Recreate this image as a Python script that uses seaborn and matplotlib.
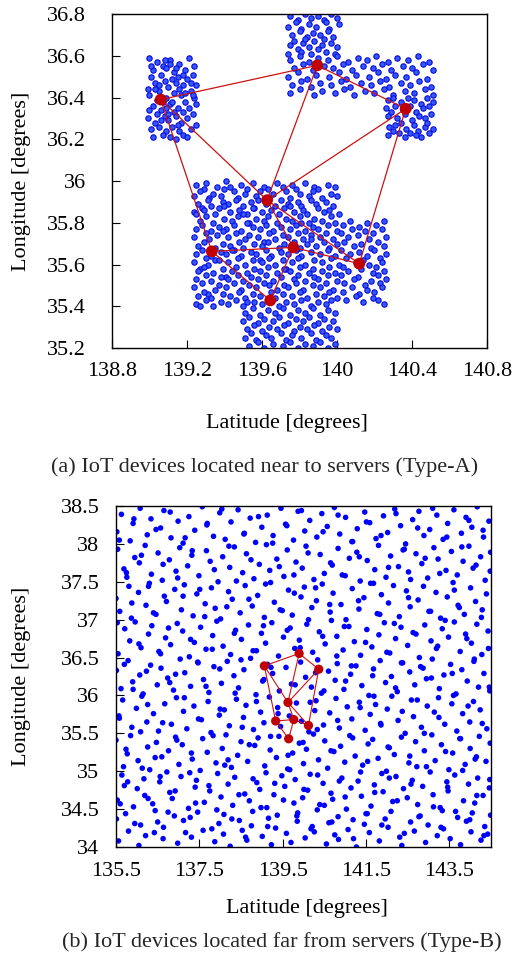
import matplotlib
matplotlib.use("Agg")
import matplotlib.pyplot as plt
import numpy as np
import pandas as pd
import seaborn as sns

# ---------------------------------------------------------------
# Edge servers (shared by both scenarios) and the links between them
# ---------------------------------------------------------------
server_lon = [139.06, 139.895, 140.366, 139.627, 139.332, 139.767, 140.119, 139.644]
server_lat = [36.39, 36.554, 36.346, 35.908, 35.663, 35.682, 35.604, 35.428]
server_links = [(0, 1), (1, 2), (0, 3), (0, 4), (1, 3), (2, 3), (2, 6),
                (3, 5), (3, 6), (4, 5), (4, 7), (5, 7), (5, 6)]

# ---------------------------------------------------------------
# Type-A: IoT devices placed in the areas around the servers
# ---------------------------------------------------------------
near_west = [
    (139.00, 36.59), (139.04, 36.57), (139.07, 36.55), (139.11, 36.58), (139.16, 36.56), (139.21, 36.59), (139.24, 36.55),
    (139.02, 36.53), (139.06, 36.51), (139.09, 36.54), (139.13, 36.52), (139.15, 36.50), (139.19, 36.53), (139.23, 36.51), (139.01, 36.50),
    (139.03, 36.47), (139.08, 36.48), (139.10, 36.45), (139.14, 36.47), (139.18, 36.46), (139.20, 36.49), (139.25, 36.46), (138.99, 36.44), (139.12, 36.49),
    (139.00, 36.41), (139.05, 36.43), (139.09, 36.40), (139.13, 36.42), (139.17, 36.41), (139.22, 36.43), (139.24, 36.40), (139.07, 36.38),
    (139.02, 36.36), (139.06, 36.34), (139.11, 36.37), (139.15, 36.35), (139.19, 36.38), (139.21, 36.35), (139.25, 36.37), (139.04, 36.32), (139.13, 36.33),
    (138.99, 36.30), (139.08, 36.31), (139.10, 36.29), (139.14, 36.31), (139.17, 36.28), (139.20, 36.30), (139.23, 36.32), (139.03, 36.28),
    (139.01, 36.25), (139.05, 36.26), (139.09, 36.24), (139.12, 36.26), (139.16, 36.24), (139.22, 36.25), (139.25, 36.27), (139.07, 36.22),
    (139.02, 36.21), (139.11, 36.21), (139.14, 36.20), (139.18, 36.22), (139.20, 36.21), (139.04, 36.39), (139.16, 36.44), (139.11, 36.56),
    (139.08, 36.58), (139.18, 36.51), (139.05, 36.46), (139.22, 36.47), (139.12, 36.38), (139.09, 36.35), (139.18, 36.33), (139.00, 36.34),
    (139.23, 36.41), (139.06, 36.29), (139.15, 36.27), (139.10, 36.32), (139.03, 36.44), (139.19, 36.42), (139.14, 36.54), (139.01, 36.55),
]

near_north = [
    (139.75, 36.79), (139.79, 36.77), (139.83, 36.80), (139.86, 36.78), (139.90, 36.79), (139.93, 36.77), (139.97, 36.80), (140.00, 36.78),
    (139.74, 36.74), (139.78, 36.76), (139.81, 36.73), (139.85, 36.75), (139.89, 36.74), (139.94, 36.76), (139.96, 36.73), (140.01, 36.75),
    (139.76, 36.70), (139.80, 36.72), (139.84, 36.69), (139.87, 36.71), (139.91, 36.70), (139.95, 36.72), (139.98, 36.69), (139.77, 36.67),
    (139.75, 36.65), (139.82, 36.66), (139.85, 36.64), (139.88, 36.67), (139.92, 36.65), (139.97, 36.66), (140.00, 36.64), (139.79, 36.63),
    (139.74, 36.61), (139.81, 36.62), (139.86, 36.61), (139.90, 36.63), (139.94, 36.62), (139.99, 36.61), (139.83, 36.68), (139.93, 36.68),
]

near_northeast = [
    (139.75, 36.58), (139.80, 36.60), (139.85, 36.57), (139.90, 36.59), (139.95, 36.58), (140.00, 36.60), (140.06, 36.57), (140.11, 36.59),
    (140.16, 36.58), (140.21, 36.60), (140.27, 36.57), (140.32, 36.59), (140.38, 36.58), (140.43, 36.60), (140.49, 36.57),
    (139.77, 36.54), (139.82, 36.56), (139.87, 36.53), (139.93, 36.55), (139.98, 36.54), (140.03, 36.56), (140.08, 36.53), (140.14, 36.55),
    (140.19, 36.54), (140.24, 36.56), (140.29, 36.53), (140.35, 36.55), (140.40, 36.54), (140.46, 36.56), (140.51, 36.53),
    (139.74, 36.50), (139.79, 36.52), (139.84, 36.49), (139.89, 36.51), (139.96, 36.50), (140.01, 36.52), (140.05, 36.49), (140.10, 36.51),
    (140.17, 36.50), (140.22, 36.52), (140.26, 36.49), (140.31, 36.51), (140.37, 36.50), (140.42, 36.52), (140.48, 36.49),
    (139.76, 36.46), (139.81, 36.48), (139.86, 36.45), (139.91, 36.47), (139.97, 36.46), (140.02, 36.48), (140.07, 36.45), (140.13, 36.47),
    (140.18, 36.46), (140.23, 36.48), (140.28, 36.45), (140.34, 36.47), (140.39, 36.46), (140.44, 36.48), (140.50, 36.45),
    (139.75, 36.42), (139.80, 36.44), (139.88, 36.41), (139.92, 36.43), (139.99, 36.42), (140.04, 36.44), (140.09, 36.41), (140.15, 36.43),
    (140.20, 36.42), (140.25, 36.44), (140.30, 36.41), (140.36, 36.43), (140.41, 36.42), (140.47, 36.44), (140.51, 36.41),
]

near_east = [
    (140.27, 36.39), (140.30, 36.40), (140.34, 36.38), (140.38, 36.40), (140.41, 36.39), (140.45, 36.37), (140.48, 36.40), (140.51, 36.38),
    (140.26, 36.35), (140.31, 36.36), (140.35, 36.34), (140.39, 36.36), (140.42, 36.33), (140.46, 36.35), (140.49, 36.36), (140.29, 36.33),
    (140.27, 36.31), (140.32, 36.30), (140.36, 36.32), (140.40, 36.29), (140.44, 36.31), (140.47, 36.30), (140.50, 36.32), (140.34, 36.28),
    (140.28, 36.26), (140.31, 36.27), (140.37, 36.25), (140.41, 36.27), (140.43, 36.24), (140.47, 36.26), (140.51, 36.25), (140.39, 36.23),
    (140.27, 36.22), (140.33, 36.23), (140.36, 36.21), (140.42, 36.22), (140.45, 36.21), (140.49, 36.23), (140.30, 36.24), (140.48, 36.28),
]

near_center = [
    (139.25, 35.98), (139.29, 35.96), (139.30, 35.99), (139.36, 35.97), (139.41, 36.00), (139.43, 35.97), (139.49, 35.98), (139.52, 35.96),
    (139.55, 35.99), (139.61, 35.97), (139.63, 35.96), (139.68, 35.99), (139.71, 35.97), (139.76, 35.98), (139.78, 35.96), (139.83, 35.99),
    (139.88, 35.97), (139.90, 35.96), (139.95, 35.98), (139.99, 35.97),
    (139.24, 35.93), (139.27, 35.95), (139.32, 35.92), (139.34, 35.94), (139.38, 35.93), (139.45, 35.95), (139.47, 35.92), (139.51, 35.94),
    (139.57, 35.93), (139.59, 35.95), (139.64, 35.92), (139.66, 35.94), (139.73, 35.95), (139.75, 35.92), (139.80, 35.94), (139.85, 35.93),
    (139.87, 35.95), (139.92, 35.92), (139.97, 35.94), (140.00, 35.93), (139.40, 35.96),
    (139.26, 35.89), (139.31, 35.91), (139.33, 35.88), (139.39, 35.90), (139.42, 35.89), (139.46, 35.91), (139.50, 35.88), (139.54, 35.90),
    (139.58, 35.91), (139.62, 35.89), (139.67, 35.88), (139.70, 35.91), (139.74, 35.89), (139.79, 35.90), (139.81, 35.88), (139.86, 35.91),
    (139.89, 35.89), (139.94, 35.90), (139.98, 35.88), (139.28, 35.87), (139.56, 35.87),
    (139.24, 35.85), (139.29, 35.86), (139.35, 35.84), (139.37, 35.87), (139.43, 35.85), (139.48, 35.86), (139.52, 35.84), (139.55, 35.87),
    (139.60, 35.85), (139.65, 35.86), (139.69, 35.84), (139.72, 35.87), (139.77, 35.85), (139.82, 35.86), (139.84, 35.84), (139.90, 35.87),
    (139.93, 35.85), (139.96, 35.86), (140.01, 35.84), (139.40, 35.88), (139.75, 35.88),
    (139.27, 35.81), (139.30, 35.83), (139.34, 35.80), (139.40, 35.82), (139.44, 35.81), (139.47, 35.83), (139.53, 35.80), (139.57, 35.82),
    (139.61, 35.81), (139.63, 35.83), (139.68, 35.80), (139.73, 35.82), (139.76, 35.81), (139.80, 35.83), (139.85, 35.80), (139.88, 35.82),
    (139.92, 35.81), (139.97, 35.83), (139.99, 35.80), (139.50, 35.84), (139.25, 35.84),
    (139.25, 35.77), (139.28, 35.79), (139.33, 35.76), (139.37, 35.78), (139.41, 35.77), (139.45, 35.79), (139.49, 35.76), (139.55, 35.78),
    (139.59, 35.77), (139.62, 35.79), (139.66, 35.76), (139.70, 35.78), (139.75, 35.77), (139.78, 35.79), (139.83, 35.76), (139.87, 35.78),
    (139.90, 35.77), (139.95, 35.79), (140.00, 35.76), (139.52, 35.80), (139.81, 35.80),
    (139.24, 35.73), (139.30, 35.75), (139.32, 35.72), (139.36, 35.74), (139.42, 35.73), (139.46, 35.75), (139.51, 35.72), (139.53, 35.74),
    (139.58, 35.73), (139.64, 35.75), (139.67, 35.72), (139.71, 35.74), (139.74, 35.73), (139.79, 35.75), (139.82, 35.72), (139.86, 35.74),
    (139.91, 35.73), (139.94, 35.75), (139.98, 35.72), (139.39, 35.76), (139.61, 35.71),
    (139.26, 35.69), (139.29, 35.71), (139.35, 35.68), (139.39, 35.70), (139.43, 35.69), (139.48, 35.71), (139.50, 35.68), (139.56, 35.70),
    (139.60, 35.69), (139.63, 35.71), (139.69, 35.68), (139.72, 35.70), (139.77, 35.71), (139.80, 35.68), (139.84, 35.70), (139.89, 35.69),
    (139.93, 35.71), (139.96, 35.68), (140.00, 35.70), (139.45, 35.67), (139.86, 35.72),
    (139.25, 35.65), (139.28, 35.67), (139.33, 35.64), (139.38, 35.66), (139.41, 35.65), (139.44, 35.67), (139.49, 35.64), (139.54, 35.66),
    (139.57, 35.65), (139.62, 35.67), (139.65, 35.64), (139.70, 35.66), (139.74, 35.65), (139.78, 35.67), (139.81, 35.64), (139.86, 35.66),
    (139.91, 35.65), (139.95, 35.67), (139.99, 35.64), (139.35, 35.62), (139.59, 35.62),
    (139.24, 35.61), (139.30, 35.63), (139.31, 35.60), (139.37, 35.62), (139.42, 35.61), (139.47, 35.63), (139.51, 35.60), (139.55, 35.62),
    (139.60, 35.61), (139.64, 35.63), (139.67, 35.60), (139.71, 35.62), (139.76, 35.61), (139.79, 35.63), (139.83, 35.60), (139.88, 35.62),
    (139.92, 35.61), (139.97, 35.63), (140.01, 35.60), (139.27, 35.58), (139.73, 35.58),
    (139.26, 35.57), (139.29, 35.59), (139.34, 35.56), (139.39, 35.58), (139.44, 35.57), (139.46, 35.59), (139.52, 35.56), (139.56, 35.58),
    (139.59, 35.57), (139.63, 35.59), (139.68, 35.56), (139.72, 35.58), (139.75, 35.57), (139.80, 35.59), (139.85, 35.56), (139.87, 35.58),
    (139.92, 35.57), (139.96, 35.59), (139.99, 35.56), (139.41, 35.54),
    (139.25, 35.53), (139.30, 35.55), (139.33, 35.52), (139.38, 35.54), (139.42, 35.53), (139.47, 35.55), (139.50, 35.52), (139.54, 35.54),
    (139.58, 35.53), (139.62, 35.55), (139.66, 35.52), (139.70, 35.54), (139.77, 35.53), (139.79, 35.55), (139.83, 35.52), (139.88, 35.54),
    (139.90, 35.53), (139.95, 35.55), (140.00, 35.52), (139.64, 35.50),
    (139.24, 35.49), (139.28, 35.51), (139.35, 35.48), (139.37, 35.50), (139.41, 35.49), (139.45, 35.51), (139.49, 35.48), (139.53, 35.50),
    (139.57, 35.49), (139.61, 35.51), (139.68, 35.48), (139.72, 35.50), (139.74, 35.49), (139.78, 35.51), (139.82, 35.48), (139.87, 35.50),
    (139.91, 35.49), (139.94, 35.51), (139.98, 35.48), (139.31, 35.46),
    (139.26, 35.45), (139.29, 35.47), (139.33, 35.44), (139.39, 35.46), (139.43, 35.45), (139.48, 35.47), (139.51, 35.44), (139.55, 35.46),
    (139.59, 35.45), (139.65, 35.47), (139.67, 35.44), (139.71, 35.46), (139.76, 35.45), (139.80, 35.47), (139.84, 35.44), (139.89, 35.46),
    (139.93, 35.45), (139.96, 35.47), (140.00, 35.44), (139.52, 35.42),
    (139.25, 35.41), (139.30, 35.43), (139.34, 35.40), (139.38, 35.42), (139.42, 35.41), (139.46, 35.43), (139.50, 35.40), (139.56, 35.42),
    (139.60, 35.41), (139.63, 35.43), (139.69, 35.40), (139.73, 35.42), (139.77, 35.41), (139.81, 35.43), (139.86, 35.40), (139.90, 35.42),
    (139.94, 35.41), (139.97, 35.43), (139.27, 35.40),
]

near_southeast = [
    (140.03, 35.79), (140.07, 35.81), (140.12, 35.78), (140.16, 35.80), (140.21, 35.79), (140.25, 35.81),
    (140.02, 35.75), (140.08, 35.77), (140.11, 35.74), (140.15, 35.76), (140.19, 35.75), (140.24, 35.77),
    (140.04, 35.71), (140.06, 35.73), (140.13, 35.70), (140.17, 35.72), (140.22, 35.71), (140.26, 35.73),
    (140.02, 35.67), (140.09, 35.69), (140.12, 35.66), (140.18, 35.68), (140.20, 35.67), (140.25, 35.69),
    (140.05, 35.63), (140.07, 35.65), (140.14, 35.62), (140.16, 35.64), (140.23, 35.63), (140.26, 35.65),
    (140.03, 35.59), (140.10, 35.61), (140.13, 35.58), (140.17, 35.60), (140.21, 35.59), (140.24, 35.61),
    (140.02, 35.55), (140.06, 35.57), (140.11, 35.54), (140.19, 35.56), (140.22, 35.55), (140.25, 35.57),
    (140.04, 35.51), (140.09, 35.53), (140.15, 35.50), (140.18, 35.52), (140.23, 35.51), (140.26, 35.53),
    (140.03, 35.47), (140.08, 35.49), (140.12, 35.46), (140.16, 35.48), (140.20, 35.47), (140.24, 35.49),
    (140.05, 35.43), (140.10, 35.45), (140.14, 35.42), (140.19, 35.44), (140.22, 35.43), (140.25, 35.41),
]

near_south = [
    (139.51, 35.37), (139.55, 35.39), (139.59, 35.36), (139.63, 35.38), (139.67, 35.37), (139.71, 35.39), (139.75, 35.36),
    (139.79, 35.38), (139.83, 35.37), (139.87, 35.39), (139.91, 35.36), (139.95, 35.38), (139.99, 35.37),
    (139.50, 35.33), (139.53, 35.35), (139.58, 35.32), (139.61, 35.34), (139.66, 35.33), (139.69, 35.35), (139.74, 35.32),
    (139.78, 35.34), (139.82, 35.33), (139.85, 35.35), (139.90, 35.32), (139.93, 35.34), (139.98, 35.33),
    (139.52, 35.29), (139.56, 35.31), (139.60, 35.28), (139.64, 35.30), (139.68, 35.29), (139.72, 35.31), (139.77, 35.28),
    (139.80, 35.30), (139.84, 35.29), (139.88, 35.31), (139.92, 35.28), (139.96, 35.30), (140.00, 35.29),
    (139.51, 35.25), (139.54, 35.27), (139.57, 35.24), (139.62, 35.26), (139.65, 35.25), (139.70, 35.27), (139.73, 35.24),
    (139.76, 35.26), (139.81, 35.25), (139.86, 35.27), (139.89, 35.24), (139.94, 35.26), (139.97, 35.25),
    (139.53, 35.21), (139.58, 35.23), (139.61, 35.20), (139.66, 35.22), (139.71, 35.21), (139.75, 35.23), (139.79, 35.20),
    (139.83, 35.22), (139.87, 35.21), (139.91, 35.23), (139.95, 35.20), (139.99, 35.22),
]

# ---------------------------------------------------------------
# Type-B: IoT devices spread over a wide area, far from the servers
# ---------------------------------------------------------------
far_devices = [
    (135.51, 34.37), (135.56, 34.08), (135.73, 34.44), (135.80, 34.21), (136.05, 34.02), (136.09, 34.29), (136.21, 34.15), (136.44, 34.48),
    (136.50, 34.33), (136.63, 34.11), (136.64, 34.26), (136.90, 34.41), (136.98, 34.05), (137.17, 34.19), (137.28, 34.39), (137.31, 34.13),
    (137.46, 34.46), (137.80, 34.24), (137.87, 34.07), (137.97, 34.31), (138.08, 34.17), (138.09, 34.43), (138.24, 34.01), (138.46, 34.35),
    (138.53, 34.22), (138.64, 34.09), (138.75, 34.28), (138.78, 34.47), (139.01, 34.14), (139.16, 34.38), (139.23, 34.03), (139.33, 34.25),
    (139.37, 34.42), (139.59, 34.18), (139.70, 34.06), (139.85, 34.34), (139.86, 34.45), (140.04, 34.12), (140.21, 34.27), (140.26, 34.20),
    (140.33, 34.49), (140.55, 34.04), (140.61, 34.32), (140.75, 34.16), (140.83, 34.40), (140.84, 34.10), (141.07, 34.23), (141.19, 34.36),
    (141.27, 34.00), (141.46, 34.30), (141.50, 34.44), (141.58, 34.19), (141.82, 34.08), (141.96, 34.37), (142.03, 34.26), (142.10, 34.47),
    (142.31, 34.13), (142.36, 34.02), (142.57, 34.33), (142.66, 34.21), (142.80, 34.41), (142.93, 34.06), (142.99, 34.29), (143.21, 34.15),
    (143.33, 34.48), (143.36, 34.24), (143.52, 34.11), (143.70, 34.39), (143.77, 34.03), (143.91, 34.34), (144.02, 34.20), (144.05, 34.45),
    (144.26, 34.09), (144.35, 34.27), (144.42, 34.17), (144.49, 34.42),
    (135.53, 34.62), (135.64, 34.95), (135.70, 34.81), (135.92, 34.53), (136.01, 34.77), (136.17, 34.90), (136.19, 34.68), (136.38, 34.57),
    (136.55, 34.86), (136.72, 34.99), (136.79, 34.72), (136.85, 34.64), (137.06, 34.93), (137.24, 34.51), (137.40, 34.79), (137.43, 34.88),
    (137.62, 34.59), (137.75, 34.74), (137.94, 34.97), (138.02, 34.66), (138.19, 34.83), (138.30, 34.55), (138.35, 34.92), (138.59, 34.70),
    (138.70, 34.61), (138.88, 34.85), (138.95, 34.76), (139.10, 34.98), (139.12, 34.52), (139.29, 34.69), (139.48, 34.94), (139.55, 34.80),
    (139.77, 34.58), (139.80, 34.89), (139.98, 34.65), (140.10, 34.75), (140.16, 34.96), (140.39, 34.56), (140.47, 34.84), (140.66, 34.71),
    (140.70, 34.63), (140.92, 34.91), (141.03, 34.50), (141.14, 34.78), (141.31, 34.87), (141.39, 34.67), (141.62, 34.54), (141.70, 34.82),
    (141.88, 34.97), (141.91, 34.73), (142.14, 34.60), (142.22, 34.93), (142.40, 34.77), (142.49, 34.65), (142.61, 34.88), (142.74, 34.56),
    (142.86, 34.80), (143.04, 34.99), (143.11, 34.69), (143.28, 34.52), (143.44, 34.86), (143.47, 34.74), (143.63, 34.95), (143.84, 34.61),
    (143.96, 34.83), (144.11, 34.58), (144.18, 34.91), (144.31, 34.68), (144.46, 34.78),
    (135.50, 35.41), (135.68, 35.06), (135.77, 35.23), (135.85, 35.47), (136.03, 35.14), (136.26, 35.32), (136.31, 35.02), (136.47, 35.38),
    (136.60, 35.19), (136.76, 35.27), (136.93, 35.45), (137.01, 35.09), (137.09, 35.35), (137.33, 35.16), (137.52, 35.01), (137.58, 35.43),
    (137.69, 35.25), (137.90, 35.11), (138.05, 35.30), (138.14, 35.48), (138.27, 35.05), (138.42, 35.21), (138.50, 35.39), (138.66, 35.13),
    (138.83, 35.34), (138.91, 35.44), (139.07, 35.07), (139.20, 35.28), (139.35, 35.18), (139.41, 35.46), (139.62, 35.03), (139.74, 35.24),
    (139.90, 35.37), (140.00, 35.10), (140.07, 35.29), (140.24, 35.49), (140.36, 35.15), (140.51, 35.40), (140.58, 35.04), (140.73, 35.26),
    (140.89, 35.33), (140.99, 35.12), (141.11, 35.47), (141.24, 35.20), (141.42, 35.08), (141.55, 35.36), (141.66, 35.42), (141.79, 35.17),
    (141.99, 35.00), (142.06, 35.31), (142.18, 35.22), (142.35, 35.45), (142.53, 35.11), (142.69, 35.39), (142.72, 35.06), (142.90, 35.27),
    (143.08, 35.48), (143.16, 35.14), (143.31, 35.35), (143.49, 35.02), (143.58, 35.24), (143.75, 35.43), (143.88, 35.09), (144.00, 35.30),
    (144.15, 35.19), (144.22, 35.46), (144.38, 35.13), (144.48, 35.37),
    (135.58, 35.70), (135.66, 35.94), (135.88, 35.58), (135.99, 35.83), (136.12, 35.99), (136.24, 35.65), (136.40, 35.76), (136.52, 35.53),
    (136.67, 35.89), (136.83, 35.62), (136.95, 35.97), (137.12, 35.79), (137.20, 35.56), (137.37, 35.86), (137.55, 35.68), (137.71, 35.92),
    (137.78, 35.51), (137.98, 35.74), (138.10, 35.81), (138.22, 35.60), (138.39, 35.95), (138.56, 35.71), (138.62, 35.87), (138.80, 35.55),
    (138.97, 35.78), (139.05, 35.64), (139.18, 35.98), (139.38, 35.84), (139.45, 35.59), (139.66, 35.73), (139.83, 35.90), (139.95, 35.66),
    (140.13, 35.52), (140.27, 35.80), (140.30, 35.93), (140.48, 35.61), (140.63, 35.77), (140.78, 35.96), (140.86, 35.57), (141.05, 35.85),
    (141.16, 35.69), (141.34, 35.91), (141.48, 35.54), (141.60, 35.75), (141.73, 35.88), (141.85, 35.63), (142.01, 35.82), (142.12, 35.99),
    (142.27, 35.67), (142.44, 35.50), (142.59, 35.94), (142.64, 35.72), (142.83, 35.58), (142.97, 35.86), (143.14, 35.78), (143.24, 35.97),
    (143.39, 35.62), (143.56, 35.89), (143.68, 35.53), (143.82, 35.76), (143.99, 35.65), (144.08, 35.92), (144.24, 35.81), (144.40, 35.56),
    (135.51, 36.33), (135.62, 36.09), (135.79, 36.46), (135.90, 36.18), (136.07, 36.27), (136.15, 36.02), (136.33, 36.40), (136.49, 36.14),
    (136.58, 36.36), (136.74, 36.23), (136.88, 36.07), (137.04, 36.48), (137.15, 36.30), (137.29, 36.12), (137.47, 36.43), (137.60, 36.21),
    (137.73, 36.04), (137.85, 36.38), (138.03, 36.16), (138.17, 36.45), (138.33, 36.26), (138.44, 36.10), (138.57, 36.34), (138.73, 36.49),
    (138.86, 36.01), (139.02, 36.19), (139.14, 36.41), (139.26, 36.29), (139.42, 36.06), (139.58, 36.37), (139.71, 36.15), (139.93, 36.44),
    (140.05, 36.24), (140.19, 36.11), (140.34, 36.47), (140.43, 36.03), (140.60, 36.32), (140.76, 36.20), (140.81, 36.42), (140.97, 36.08),
    (141.13, 36.28), (141.26, 36.39), (141.40, 36.13), (141.57, 36.00), (141.68, 36.35), (141.84, 36.46), (141.97, 36.17), (142.11, 36.25),
    (142.25, 36.05), (142.38, 36.43), (142.55, 36.31), (142.67, 36.14), (142.81, 36.38), (142.95, 36.22), (143.09, 36.48), (143.26, 36.09),
    (143.37, 36.27), (143.53, 36.41), (143.66, 36.02), (143.80, 36.34), (143.93, 36.19), (144.09, 36.45), (144.20, 36.11), (144.33, 36.29),
    (144.47, 36.06),
    (135.55, 36.55), (135.71, 36.88), (135.83, 36.72), (135.96, 36.97), (136.10, 36.63), (136.28, 36.81), (136.36, 36.92), (136.53, 36.58),
    (136.69, 36.76), (136.81, 36.67), (136.97, 36.95), (137.10, 36.85), (137.26, 36.51), (137.38, 36.70), (137.53, 36.90), (137.66, 36.61),
    (137.82, 36.79), (137.92, 36.98), (138.07, 36.65), (138.25, 36.54), (138.37, 36.86), (138.51, 36.74), (138.68, 36.93), (138.79, 36.59),
    (138.99, 36.82), (139.09, 36.69), (139.24, 36.96), (139.40, 36.52), (139.52, 36.77), (139.68, 36.89), (139.79, 36.62), (139.90, 36.73),
    (140.08, 36.94), (140.22, 36.57), (140.38, 36.84), (140.52, 36.68), (140.67, 36.99), (140.80, 36.78), (140.95, 36.60), (141.09, 36.91),
    (141.22, 36.71), (141.37, 36.53), (141.52, 36.87), (141.64, 36.64), (141.81, 36.80), (141.94, 36.96), (142.07, 36.56), (142.21, 36.75),
    (142.34, 36.90), (142.50, 36.66), (142.63, 36.83), (142.78, 36.50), (142.91, 36.93), (143.06, 36.72), (143.19, 36.62), (143.33, 36.88),
    (143.48, 36.77), (143.62, 36.97), (143.76, 36.58), (143.89, 36.81), (144.03, 36.69), (144.16, 36.94), (144.28, 36.54), (144.43, 36.85),
    (135.50, 37.28), (135.59, 37.11), (135.81, 37.44), (135.87, 37.02), (136.04, 37.36), (136.22, 37.19), (136.30, 37.48), (136.46, 37.07),
    (136.66, 37.31), (136.71, 37.24), (136.91, 37.40), (137.07, 37.13), (137.14, 37.46), (137.35, 37.05), (137.44, 37.34), (137.64, 37.21),
    (137.79, 37.42), (137.88, 37.15), (138.01, 37.01), (138.20, 37.37), (138.29, 37.27), (138.48, 37.09), (138.60, 37.45), (138.77, 37.18),
    (138.90, 37.32), (139.06, 37.03), (139.21, 37.49), (139.30, 37.23), (139.49, 37.12), (139.64, 37.39), (139.73, 37.06), (139.94, 37.30),
    (140.02, 37.43), (140.20, 37.16), (140.31, 37.25), (140.45, 37.47), (140.64, 37.10), (140.71, 37.35), (140.90, 37.20), (141.02, 37.00),
    (141.17, 37.41), (141.33, 37.14), (141.45, 37.29), (141.61, 37.48), (141.77, 37.08), (141.87, 37.33), (142.04, 37.22), (142.16, 37.45),
    (142.30, 37.04), (142.47, 37.38), (142.56, 37.17), (142.75, 37.26), (142.88, 37.44), (143.01, 37.11), (143.18, 37.36), (143.29, 37.02),
    (143.45, 37.30), (143.59, 37.49), (143.71, 37.19), (143.86, 37.07), (144.01, 37.42), (144.13, 37.24), (144.29, 37.13), (144.39, 37.34),
    (135.54, 37.93), (135.69, 37.67), (135.76, 37.56), (135.95, 37.82), (136.06, 37.75), (136.20, 37.98), (136.35, 37.60), (136.51, 37.88),
    (136.61, 37.52), (136.78, 37.79), (136.94, 37.64), (137.03, 37.95), (137.22, 37.71), (137.32, 37.85), (137.49, 37.58), (137.67, 37.91),
    (137.76, 37.77), (137.95, 37.50), (138.06, 37.83), (138.23, 37.69), (138.34, 37.96), (138.54, 37.62), (138.63, 37.87), (138.81, 37.54),
    (138.94, 37.73), (139.11, 37.99), (139.19, 37.65), (139.36, 37.80), (139.53, 37.57), (139.61, 37.92), (139.82, 37.76), (139.97, 37.68),
    (140.06, 37.97), (140.25, 37.53), (140.40, 37.86), (140.50, 37.61), (140.69, 37.72), (140.83, 37.94), (140.93, 37.59), (141.10, 37.81),
    (141.28, 37.89), (141.36, 37.51), (141.53, 37.78), (141.71, 37.66), (141.80, 37.98), (141.98, 37.56), (142.09, 37.84), (142.28, 37.70),
    (142.42, 37.93), (142.52, 37.63), (142.70, 37.87), (142.84, 37.74), (142.98, 37.55), (143.13, 37.95), (143.23, 37.80), (143.42, 37.65),
    (143.55, 37.90), (143.69, 37.59), (143.83, 37.77), (143.97, 37.97), (144.07, 37.68), (144.25, 37.83), (144.36, 37.52), (144.49, 37.89),
    (135.52, 38.16), (135.63, 38.39), (135.84, 38.04), (135.91, 38.27), (136.08, 38.47), (136.25, 38.12), (136.34, 38.33), (136.57, 38.21),
    (136.65, 38.44), (136.82, 38.08), (136.99, 38.30), (137.11, 38.01), (137.25, 38.36), (137.39, 38.18), (137.57, 38.49), (137.68, 38.25),
    (137.84, 38.10), (137.99, 38.41), (138.12, 38.06), (138.26, 38.29), (138.43, 38.45), (138.58, 38.14), (138.72, 38.34), (138.85, 38.02),
    (139.00, 38.22), (139.13, 38.38), (139.27, 38.11), (139.46, 38.47), (139.57, 38.26), (139.76, 38.05), (139.87, 38.43), (140.03, 38.17),
    (140.15, 38.31), (140.32, 38.09), (140.44, 38.40), (140.57, 38.23), (140.74, 38.48), (140.87, 38.13), (141.01, 38.35), (141.18, 38.03),
    (141.29, 38.20), (141.47, 38.42), (141.59, 38.28), (141.74, 38.07), (141.92, 38.37), (142.02, 38.15), (142.19, 38.46), (142.33, 38.24),
    (142.45, 38.00), (142.62, 38.32), (142.77, 38.43), (142.89, 38.11), (143.03, 38.19), (143.20, 38.38), (143.35, 38.06), (143.46, 38.27),
    (143.61, 38.45), (143.79, 38.14), (143.90, 38.35), (144.04, 38.22), (144.17, 38.49), (144.32, 38.09), (144.45, 38.30),
    (135.60, 34.57), (135.78, 34.86), (135.95, 34.31), (136.13, 35.04), (136.27, 34.64), (136.42, 34.19), (136.56, 34.93), (136.75, 34.46),
    (136.92, 34.74), (137.12, 34.35), (137.27, 34.98), (137.41, 34.58), (137.59, 34.22), (137.73, 34.81), (137.92, 34.49), (138.11, 35.08),
    (138.28, 34.37), (138.45, 34.69), (138.61, 34.13), (138.79, 34.90), (138.98, 34.52), (139.14, 34.27), (139.31, 34.84), (139.52, 34.62),
    (139.67, 35.02), (139.84, 34.41), (140.01, 34.76), (140.18, 34.24), (140.34, 34.95), (140.50, 34.55), (140.68, 34.33), (140.86, 34.87),
    (141.00, 34.66), (141.20, 34.11), (141.37, 34.99), (141.53, 34.44), (141.71, 34.72), (141.88, 34.29), (142.06, 34.91), (142.25, 34.61),
    (142.42, 34.18), (142.58, 34.83), (142.77, 34.40), (142.95, 35.06), (143.12, 34.53), (143.30, 34.26), (143.46, 34.79), (143.65, 34.47),
    (143.82, 35.01), (143.99, 34.36), (144.16, 34.68), (144.33, 34.15), (144.47, 34.89),
    (135.57, 35.73), (135.74, 35.29), (135.91, 36.08), (136.09, 35.52), (136.26, 35.88), (136.44, 35.18), (136.62, 35.64), (136.79, 36.17),
    (136.96, 35.41), (137.14, 35.97), (137.31, 35.24), (137.48, 35.69), (137.66, 36.12), (137.83, 35.47), (138.00, 35.82), (138.19, 35.15),
    (138.36, 36.03), (138.53, 35.58), (138.70, 35.35), (138.87, 35.92), (139.05, 36.21), (139.21, 35.46), (139.39, 35.76), (139.63, 35.21),
    (139.80, 36.14), (139.99, 35.38), (140.16, 35.91), (140.33, 35.55), (140.49, 36.06), (140.66, 35.27), (140.82, 35.67), (141.01, 36.19),
    (141.18, 35.44), (141.36, 35.84), (141.54, 35.13), (141.69, 35.99), (141.86, 35.61), (142.03, 35.32), (142.21, 36.10), (142.37, 35.79),
    (142.55, 35.20), (142.73, 35.94), (142.90, 35.50), (143.07, 36.23), (143.25, 35.71), (143.41, 35.26), (143.60, 36.00), (143.77, 35.43),
    (143.95, 35.86), (144.12, 35.16), (144.29, 35.63), (144.46, 36.11),
    (135.53, 36.96), (135.70, 36.41), (135.88, 37.22), (136.05, 36.68), (136.23, 36.32), (136.40, 37.09), (136.57, 36.55), (136.76, 36.89),
    (136.93, 36.28), (137.11, 37.31), (137.29, 36.74), (137.46, 36.44), (137.63, 37.04), (137.81, 36.61), (137.99, 36.35), (138.16, 37.17),
    (138.34, 36.82), (138.50, 36.47), (138.69, 37.27), (138.87, 36.59), (139.04, 36.92), (139.22, 36.37), (139.44, 37.13), (139.61, 36.86),
    (139.78, 37.35), (139.92, 36.63), (140.12, 37.00), (140.29, 36.30), (140.46, 36.78), (140.63, 37.20), (140.80, 36.52), (140.98, 36.91),
    (141.15, 36.39), (141.32, 37.25), (141.49, 36.70), (141.66, 36.26), (141.83, 37.07), (142.00, 36.57), (142.18, 36.95), (142.35, 36.43),
    (142.52, 37.29), (142.70, 36.81), (142.87, 36.36), (143.05, 37.11), (143.22, 36.65), (143.40, 36.99), (143.57, 36.29), (143.74, 37.16),
    (143.92, 36.75), (144.10, 36.48), (144.27, 37.03), (144.44, 36.62),
    (135.58, 38.05), (135.75, 37.62), (135.93, 38.33), (136.11, 37.85), (136.28, 37.44), (136.46, 38.19), (136.63, 37.73), (136.80, 38.42),
    (136.98, 37.55), (137.16, 38.08), (137.33, 37.91), (137.51, 37.40), (137.69, 38.27), (137.86, 37.66), (138.04, 38.46), (138.21, 37.97),
    (138.39, 37.51), (138.57, 38.13), (138.74, 37.79), (138.92, 38.36), (139.09, 37.47), (139.26, 38.01), (139.42, 37.70), (139.60, 38.24),
    (139.77, 37.59), (139.95, 38.44), (140.11, 37.88), (140.29, 37.42), (140.47, 38.16), (140.65, 37.75), (140.83, 38.38), (141.00, 37.58),
    (141.16, 38.03), (141.34, 37.83), (141.51, 38.29), (141.68, 37.48), (141.86, 38.11), (142.04, 37.69), (142.22, 38.40), (142.39, 37.92),
    (142.57, 37.53), (142.74, 38.21), (142.92, 37.81), (143.10, 38.47), (143.27, 37.61), (143.44, 38.09), (143.62, 37.39), (143.80, 37.96),
    (143.97, 38.31), (144.14, 37.72), (144.31, 38.18), (144.48, 37.64),
]

# Axis ranges and tick labels
a_xticks = [138.8, 139.2, 139.6, 140.0, 140.4, 140.8]
a_xticklabels = ["138.8", "139.2", "139.6", "140", "140.4", "140.8"]
a_yticks = [35.2, 35.4, 35.6, 35.8, 36.0, 36.2, 36.4, 36.6, 36.8]
a_yticklabels = ["35.2", "35.4", "35.6", "35.8", "36", "36.2", "36.4", "36.6", "36.8"]
b_xticks = [135.5, 137.5, 139.5, 141.5, 143.5]
b_xticklabels = ["135.5", "137.5", "139.5", "141.5", "143.5"]
b_yticks = [34.0, 34.5, 35.0, 35.5, 36.0, 36.5, 37.0, 37.5, 38.0, 38.5]
b_yticklabels = ["34", "34.5", "35", "35.5", "36", "36.5", "37", "37.5", "38", "38.5"]

XLAB = "Latitude [degrees]"
YLAB = "Longitude [degrees]"

near_devices = near_west + near_north + near_northeast + near_east + near_center + near_southeast + near_south
near_df = pd.DataFrame(near_devices, columns=["x", "y"])
far_df = pd.DataFrame(far_devices, columns=["x", "y"])
servers_df = pd.DataFrame({"x": server_lon, "y": server_lat})

sns.set_theme(style="ticks")
plt.rcParams["font.family"] = ["Liberation Serif", "DejaVu Serif"]

fig = plt.figure(figsize=(5.12, 9.6), dpi=100)
fig.patch.set_facecolor("white")
ax_a = fig.add_axes([112 / 512, 1 - 348 / 960, 375 / 512, 334 / 960])
ax_b = fig.add_axes([116 / 512, 1 - 847 / 960, 375 / 512, 341 / 960])

LINK_COLOR = "#cc1111"
SERVER_COLOR = "#c00000"


def draw_links(ax, lw):
    for i, j in server_links:
        ax.plot([server_lon[i], server_lon[j]], [server_lat[i], server_lat[j]],
                color=LINK_COLOR, lw=lw, zorder=3, solid_capstyle="round")


# (a) Type-A
sns.scatterplot(data=near_df, x="x", y="y", ax=ax_a, s=15, color="#3358ff",
                edgecolor="#0a0ad8", linewidth=0.8, zorder=2, legend=False)
draw_links(ax_a, 0.9)
sns.scatterplot(data=servers_df, x="x", y="y", ax=ax_a, s=72, color=SERVER_COLOR,
                edgecolor="none", linewidth=0, zorder=4, legend=False)

# (b) Type-B
sns.scatterplot(data=far_df, x="x", y="y", ax=ax_b, s=16, color="#0000ff",
                edgecolor="none", linewidth=0, zorder=2, legend=False)
draw_links(ax_b, 0.8)
sns.scatterplot(data=servers_df, x="x", y="y", ax=ax_b, s=44, color=SERVER_COLOR,
                edgecolor="none", linewidth=0, zorder=4, legend=False)

ax_a.set_xlim(138.8, 140.8)
ax_a.set_ylim(35.2, 36.8)
ax_a.set_xticks(a_xticks)
ax_a.set_xticklabels(a_xticklabels)
ax_a.set_yticks(a_yticks)
ax_a.set_yticklabels(a_yticklabels)

ax_b.set_xlim(135.5, 144.5)
ax_b.set_ylim(34.0, 38.5)
ax_b.set_xticks(b_xticks)
ax_b.set_xticklabels(b_xticklabels)
ax_b.set_yticks(b_yticks)
ax_b.set_yticklabels(b_yticklabels)

for ax, xpad, ypad in ((ax_a, 10, 19), (ax_b, 11, 12)):
    ax.tick_params(axis="both", direction="in", length=6, width=0.8,
                   bottom=True, left=True, top=False, right=False,
                   labelsize=16, colors="black")
    ax.tick_params(axis="x", pad=xpad)
    ax.tick_params(axis="y", pad=ypad)
    for sp in ax.spines.values():
        sp.set_visible(True)
        sp.set_color("black")
        sp.set_linewidth(1.0)
    ax.set_facecolor("white")

ax_a.set_xlabel(XLAB, fontsize=16, color="black")
ax_a.set_ylabel(YLAB, fontsize=16, color="black")
ax_a.xaxis.label.set_va("center")
ax_a.yaxis.label.set_va("center")
ax_a.xaxis.set_label_coords(0.466, -0.2246)
ax_a.yaxis.set_label_coords(-0.24, 0.5)

ax_b.set_xlabel(XLAB, fontsize=16, color="black")
ax_b.set_ylabel(YLAB, fontsize=16, color="black")
ax_b.xaxis.label.set_va("center")
ax_b.yaxis.label.set_va("center")
ax_b.xaxis.set_label_coords(0.509, -0.179)
ax_b.yaxis.set_label_coords(-0.2507, 0.5)

fig.text(265 / 512, 1 - 467 / 960, "(a) IoT devices located near to servers (Type-A)",
         ha="center", va="center", fontsize=16)
fig.text(282 / 512, 1 - 942 / 960, "(b) IoT devices located far from servers (Type-B)",
         ha="center", va="center", fontsize=16)

fig.savefig("out.png", dpi=100, facecolor="white")
